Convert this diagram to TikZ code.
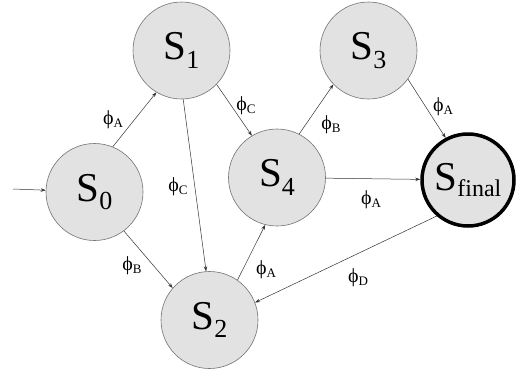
\documentclass[tikz,border=0pt]{standalone}
\usepackage{fontspec}
\setmainfont{Liberation Serif}
\usetikzlibrary{arrows.meta}
\definecolor{stategray}{RGB}{226,226,226}
\newcommand{\ph}[1]{ϕ\raisebox{-0.3ex}{\fontsize{13}{13}\selectfont #1}}
\newcommand{\st}[1]{S\raisebox{-0.45ex}{\fontsize{26}{26}\selectfont #1}}

\begin{document}
\begin{tikzpicture}[
    x=1pt, y=-1pt,
    state/.style={circle, draw=black!55, line width=0.6pt, fill=stategray, minimum size=97pt, inner sep=0pt, font=\fontsize{41}{41}\selectfont},
    final/.style={state, draw=black, line width=3.5pt, minimum size=92pt},
    lbl/.style={font=\fontsize{20}{20}\selectfont, inner sep=0pt},
    arr/.style={-{Stealth[length=5pt,width=3.5pt]}, line width=0.5pt, draw=black!80}
]
    \useasboundingbox (0,0) rectangle (516,376);

    % states
    \node[state] (s0) at (94.5,192) {\st{0}};
    \node[state] (s1) at (181.5,50.5) {\st{1}};
    \node[state] (s2) at (209.5,320) {\st{2}};
    \node[state] (s3) at (368.5,50.5) {\st{3}};
    \node[state] (s4) at (277,177.5) {\st{4}};
    \node[final] (sf) at (468,180) {S\raisebox{-0.35ex}{\fontsize{24}{24}\selectfont final}};
    \coordinate (start) at (13,189);

    % transitions
    \draw[arr] (start) -- (s0);
    \draw[arr] (s0.68) -- (s1.239);
    \draw[arr] (s0.-53) -- (s2.139);
    \draw[arr] (s1.-88) -- (s2.94);
    \draw[arr] (s1.-44) -- (s4.121);
    \draw[arr] (s4.63) -- (s3.224);
    \draw[arr] (s3.-36) -- (sf.118);
    \draw[arr] (s4) -- (sf);
    \draw[arr] (s2.55) -- (s4.256);
    \draw[arr] (sf.229) -- (s2.21);

    % labels
    \node[lbl] (l01) at (113,120) {\ph{A}};
    \node[lbl] (l02) at (132,266) {\ph{B}};
    \node[lbl] (l12) at (178,187) {\ph{C}};
    \node[lbl] (l14) at (246,106) {\ph{C}};
    \node[lbl] (l43) at (331,125) {\ph{B}};
    \node[lbl] (l3f) at (443,107) {\ph{A}};
    \node[lbl] (l4f) at (371,200) {\ph{A}};
    \node[lbl] (l24) at (266,270) {\ph{A}};
    \node[lbl] (lf2) at (358,278) {\ph{D}};
\end{tikzpicture}
\end{document}
